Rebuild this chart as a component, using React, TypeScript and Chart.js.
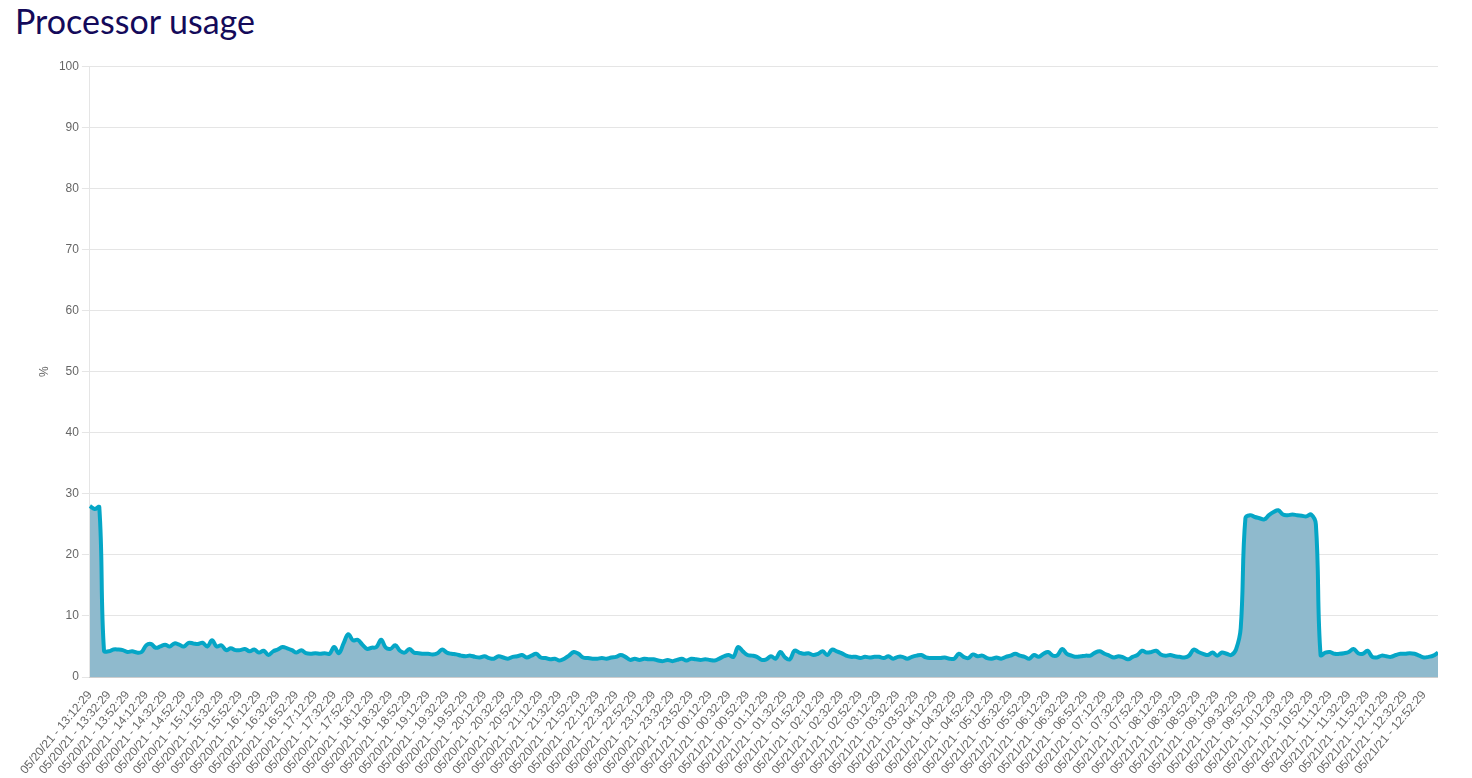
import { Chart, registerables } from "chart.js";
import { useEffect, useRef } from "react";
Chart.register(...registerables);

// 5-minute samples from 05/20/21 13:12:29 to 05/21/21 13:07:29, one row per hour
const usage: number[] = [
  28, 27.5, 27.8, 4.3, 4.2, 4.5, 4.5, 4.4, 4.1, 4.2, 4.0, 4.1,
  5.2, 5.4, 4.8, 5.0, 5.3, 5.0, 5.5, 5.3, 5.0, 5.6, 5.5, 5.4,
  5.6, 5.0, 6.0, 5.0, 5.2, 4.4, 4.7, 4.4, 4.4, 4.6, 4.2, 4.5,
  4.0, 4.3, 3.6, 4.2, 4.5, 4.9, 4.7, 4.4, 4.0, 4.4, 3.9, 3.8,
  3.9, 3.8, 3.9, 3.8, 4.9, 3.9, 5.5, 7.0, 6.0, 6.1, 5.3, 4.6,
  4.8, 4.9, 6.1, 4.8, 4.6, 5.2, 4.3, 4.0, 4.6, 4.0, 3.9, 3.8,
  3.8, 3.7, 3.9, 4.5, 4.0, 3.8, 3.7, 3.5, 3.4, 3.5, 3.3, 3.2,
  3.4, 3.1, 3.0, 3.4, 3.2, 3.0, 3.3, 3.4, 3.6, 3.2, 3.5, 3.8,
  3.2, 3.1, 2.9, 3.0, 2.7, 3.0, 3.5, 4.1, 3.8, 3.2, 3.1, 3.0,
  3.0, 3.1, 3.0, 3.2, 3.3, 3.6, 3.3, 2.8, 3.0, 2.8, 3.0, 2.9,
  2.9, 2.7, 2.6, 2.8, 2.6, 2.8, 3.0, 2.7, 3.0, 2.9, 2.8, 2.9,
  2.8, 2.7, 3.0, 3.4, 3.6, 3.3, 4.9, 4.2, 3.6, 3.5, 3.3, 2.8,
  2.9, 3.4, 3.0, 4.1, 3.2, 2.9, 4.3, 4.0, 3.8, 3.9, 3.6, 3.8,
  4.2, 3.6, 4.5, 4.2, 3.9, 3.5, 3.3, 3.3, 3.1, 3.3, 3.2, 3.3,
  3.3, 3.1, 3.4, 3.0, 3.3, 3.3, 3.0, 3.3, 3.5, 3.6, 3.2, 3.1,
  3.1, 3.1, 3.2, 3.0, 3.0, 3.8, 3.3, 3.1, 3.7, 3.4, 3.5, 3.1,
  3.0, 3.2, 3.0, 3.3, 3.5, 3.8, 3.5, 3.3, 3.0, 3.6, 3.3, 3.8,
  4.1, 3.5, 3.6, 4.6, 3.8, 3.5, 3.3, 3.4, 3.5, 3.5, 4.0, 4.2,
  3.8, 3.5, 3.2, 3.4, 3.2, 2.9, 3.3, 3.6, 4.3, 4.0, 4.1, 4.3,
  3.7, 3.5, 3.6, 3.4, 3.3, 3.2, 3.5, 4.5, 4.1, 3.8, 3.6, 4.0,
  3.5, 4.0, 3.8, 3.6, 4.5, 8.0, 26.0, 26.5, 26.2, 26.0, 25.8, 26.5,
  27.0, 27.3, 26.6, 26.5, 26.6, 26.5, 26.4, 26.3, 26.6, 25.0, 3.6, 4.0,
  4.1, 3.8, 3.8, 3.9, 4.1, 4.6, 3.9, 3.8, 4.3, 3.3, 3.2, 3.5,
  3.4, 3.3, 3.6, 3.8, 3.8, 3.9, 3.8, 3.5, 3.2, 3.3, 3.5, 4.0,
];

const pad = (n: number) => String(n).padStart(2, "0");
const labels: string[] = usage.map((_, i) => {
  const m = 13 * 60 + 12 + i * 5;
  const day = m >= 24 * 60 ? 21 : 20;
  const mm = m % (24 * 60);
  return `05/${day}/21 - ${pad(Math.floor(mm / 60))}:${pad(mm % 60)}:29`;
});

function UsageChart() {
  const chartRef = useRef<HTMLCanvasElement | null>(null);
  const chartInstance = useRef<Chart | null>(null);

  useEffect(() => {
    const ctx = chartRef.current?.getContext("2d");
    if (chartInstance.current) chartInstance.current.destroy();
    if (ctx) {
      chartInstance.current = new Chart(ctx, {
        type: "line",
        data: {
          labels,
          datasets: [
            {
              label: "Processor usage",
              data: usage,
              borderColor: "#05a6c6",
              backgroundColor: "#8fbacd",
              fill: true,
              borderWidth: 4,
              pointRadius: 0,
              tension: 0.4,
            },
          ],
        },
        options: {
          animation: false,
          responsive: true,
          maintainAspectRatio: false,
          plugins: { legend: { display: false }, tooltip: { enabled: false } },
          scales: {
            x: {
              grid: { display: false },
              ticks: {
                autoSkip: false,
                minRotation: 50,
                maxRotation: 50,
                color: "#666",
                font: { size: 12 },
                callback: (_v, i) => (i % 4 === 0 ? labels[i] : null),
              },
            },
            y: {
              min: 0,
              max: 100,
              ticks: { stepSize: 10, color: "#666", font: { size: 12 } },
              grid: { color: "#e5e5e5" },
              title: { display: true, text: "%", color: "#666" },
            },
          },
        },
      });
    }
    return () => {
      if (chartInstance.current) chartInstance.current.destroy();
    };
  }, []);

  return <canvas ref={chartRef} />;
}

export default function App() {
  return (
    <div style={{ fontFamily: "Lato, sans-serif" }}>
      <div style={{ fontSize: 34, color: "#140a5a", margin: "-8px 0 0 7px", height: 56 }}>
        Processor usage
      </div>
      <div style={{ position: "relative", width: 1418, height: 724, marginLeft: 12 }}>
        <UsageChart />
      </div>
    </div>
  );
}
